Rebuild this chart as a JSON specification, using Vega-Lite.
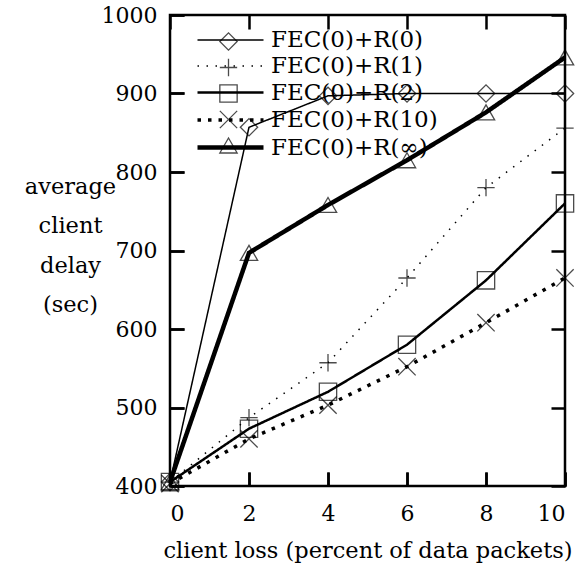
{
  "$schema": "https://vega.github.io/schema/vega-lite/v6.json",
  "width": 395,
  "height": 471,
  "autosize": "none",
  "padding": {"left": 170, "top": 15, "right": 14, "bottom": 79},
  "background": "white",
  "config": {
    "font": "DejaVu Serif",
    "view": {"stroke": "black", "strokeWidth": 2.5},
    "axis": {"labelFont": "DejaVu Serif", "titleFont": "DejaVu Serif", "labelFontSize": 22, "titleFontSize": 22.5, "labelColor": "black", "titleColor": "black", "titleFontWeight": "normal", "domain": false, "ticks": true, "tickSize": -14, "tickColor": "black", "tickWidth": 2.5, "grid": true, "gridColor": "black", "gridWidth": 2.5, "gridOpacity": 1, "zindex": 1},
    "legend": {"labelFont": "DejaVu Serif", "labelFontSize": 23, "labelColor": "black", "labelLimit": 0}
  },
  "data": {
    "values": [
      {"series": "FEC(0)+R(0)", "loss": 0, "delay": 405},
      {"series": "FEC(0)+R(0)", "loss": 2, "delay": 857},
      {"series": "FEC(0)+R(0)", "loss": 4, "delay": 897},
      {"series": "FEC(0)+R(0)", "loss": 6, "delay": 900},
      {"series": "FEC(0)+R(0)", "loss": 8, "delay": 900},
      {"series": "FEC(0)+R(0)", "loss": 10, "delay": 900},
      {"series": "FEC(0)+R(1)", "loss": 0, "delay": 405},
      {"series": "FEC(0)+R(1)", "loss": 2, "delay": 487},
      {"series": "FEC(0)+R(1)", "loss": 4, "delay": 557},
      {"series": "FEC(0)+R(1)", "loss": 6, "delay": 665},
      {"series": "FEC(0)+R(1)", "loss": 8, "delay": 780},
      {"series": "FEC(0)+R(1)", "loss": 10, "delay": 856},
      {"series": "FEC(0)+R(2)", "loss": 0, "delay": 405},
      {"series": "FEC(0)+R(2)", "loss": 2, "delay": 473},
      {"series": "FEC(0)+R(2)", "loss": 4, "delay": 520},
      {"series": "FEC(0)+R(2)", "loss": 6, "delay": 580},
      {"series": "FEC(0)+R(2)", "loss": 8, "delay": 662},
      {"series": "FEC(0)+R(2)", "loss": 10, "delay": 760},
      {"series": "FEC(0)+R(10)", "loss": 0, "delay": 403},
      {"series": "FEC(0)+R(10)", "loss": 2, "delay": 460},
      {"series": "FEC(0)+R(10)", "loss": 4, "delay": 503},
      {"series": "FEC(0)+R(10)", "loss": 6, "delay": 552},
      {"series": "FEC(0)+R(10)", "loss": 8, "delay": 608},
      {"series": "FEC(0)+R(10)", "loss": 10, "delay": 665},
      {"series": "FEC(0)+R(∞)", "loss": 0, "delay": 405},
      {"series": "FEC(0)+R(∞)", "loss": 2, "delay": 697},
      {"series": "FEC(0)+R(∞)", "loss": 4, "delay": 758},
      {"series": "FEC(0)+R(∞)", "loss": 6, "delay": 815},
      {"series": "FEC(0)+R(∞)", "loss": 8, "delay": 876},
      {"series": "FEC(0)+R(∞)", "loss": 10, "delay": 946}
    ]
  },
  "encoding": {
    "x": {"field": "loss", "type": "quantitative", "scale": {"domain": [0, 10], "nice": false, "zero": false},
      "axis": {"orient": "bottom", "values": [0, 2, 4, 6, 8, 10], "gridDash": [14, 443, 14, 1000], "labelPadding": 31, "title": "client loss (percent of data packets)", "titleY": 71, "titleBaseline": "alphabetic"}},
    "y": {"field": "delay", "type": "quantitative", "scale": {"domain": [400, 1000], "nice": false, "zero": false},
      "axis": {"orient": "left", "values": [400, 500, 600, 700, 800, 900, 1000], "format": "d", "gridDash": [14, 367, 14, 1000], "labelPadding": 27, "title": ["average", "client", "delay", "(sec)"], "titleAngle": 0, "titleAlign": "center", "titleBaseline": "alphabetic", "titleX": -100, "titleY": 178, "titleLineHeight": 39.5}}
  },
  "layer": [
    {
      "mark": {"type": "line", "color": "black", "strokeCap": "butt"},
      "encoding": {
        "detail": {"field": "series"},
        "strokeDash": {"field": "series", "type": "nominal", "sort": null,
          "scale": {"type": "ordinal", "domain": ["FEC(0)+R(0)", "FEC(0)+R(1)", "FEC(0)+R(2)", "FEC(0)+R(10)", "FEC(0)+R(∞)"], "range": [[1, 0], [1.5, 7.5], [1, 0], [3.5, 7], [1, 0]]},
          "legend": {"title": null, "orient": "none", "legendX": 47, "legendY": 13, "symbolType": "M-3,0H3", "symbolSize": 484, "symbolStrokeColor": "black", "symbolFillColor": "transparent", "rowPadding": 2, "labelOffset": 27}},
        "strokeWidth": {"field": "series", "type": "nominal", "sort": null,
          "scale": {"type": "ordinal", "domain": ["FEC(0)+R(0)", "FEC(0)+R(1)", "FEC(0)+R(2)", "FEC(0)+R(10)", "FEC(0)+R(∞)"], "range": [1.5, 1.5, 2.5, 3.5, 4.5]},
          "legend": {"title": null, "orient": "none", "legendX": 47, "legendY": 13}}
      }
    },
    {
      "mark": {"type": "point", "filled": false, "color": "black", "strokeWidth": 1.3, "size": 300},
      "encoding": {
        "shape": {"field": "series", "type": "nominal", "sort": null,
          "scale": {"domain": ["FEC(0)+R(0)", "FEC(0)+R(1)", "FEC(0)+R(2)", "FEC(0)+R(10)", "FEC(0)+R(∞)"], "range": ["diamond", "M-1,0H1M0,-1V1", "square", "M-1,-1L1,1M-1,1L1,-1", "triangle-up"]},
          "legend": {"title": null, "orient": "top-left", "offset": 15, "symbolOffset": 32, "symbolSize": 300, "symbolStrokeColor": "black", "symbolFillColor": "transparent", "symbolStrokeWidth": 1.3, "labelColor": "transparent", "labelFontSize": 23, "rowPadding": 2}}
      }
    }
  ]
}
